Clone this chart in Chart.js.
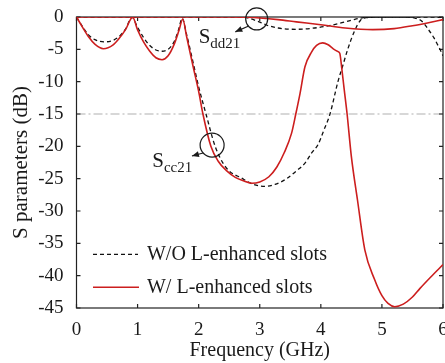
<!DOCTYPE html>
<html>
<head>
<meta charset="utf-8">
<script src="https://cdn.jsdelivr.net/npm/chart.js@4"></script>
<style>
  html, body { margin:0; padding:0; background:#fff; overflow:hidden; }
</style>
</head>
<body>
<canvas id="myChart" width="445" height="363"></canvas>
<script>
// S parameters (GHz, dB)
const freqSccW = [0, 0.1, 0.2, 0.3, 0.44, 0.6, 0.7, 0.8, 0.92, 1.0, 1.1, 1.2, 1.3, 1.4, 1.5, 1.6, 1.68, 1.74, 1.8, 1.91, 2.0, 2.07, 2.2, 2.32, 2.46, 2.6, 2.72, 2.87, 3.0, 3.15, 3.28, 3.4, 3.52, 3.59, 3.66, 3.74, 3.85, 3.93, 4.03, 4.12, 4.2, 4.27, 4.31, 4.34, 4.38, 4.43, 4.5, 4.6, 4.72, 4.88, 5.0, 5.1, 5.21, 5.35, 5.5, 5.62, 5.8, 6.0];
const sccW = [0, -1.6, -3.1, -4.2, -4.9, -4.3, -3.3, -2.0, -0.05, -2.0, -3.9, -5.3, -6.3, -6.6, -6.0, -4.2, -2.0, -0.3, -2.9, -7.7, -11.5, -15, -20, -22.3, -23.8, -24.8, -25.3, -25.7, -25.5, -24.7, -23.2, -21.0, -18.0, -15.0, -11.8, -7.7, -5.4, -4.4, -4.0, -4.3, -4.9, -5.3, -5.6, -7.7, -11, -15, -21.6, -28.3, -36, -40.6, -43.1, -44.3, -44.8, -44.4, -43.3, -42.0, -40.2, -38.3];

const freqSddW = [0, 1.0, 2.0, 2.5, 2.8, 3.0, 3.3, 3.6, 4.0, 4.4, 4.85, 5.2, 5.5, 5.8, 6.0];
const sddW = [0, 0, 0, 0, -0.05, -0.15, -0.4, -0.75, -1.2, -1.7, -1.95, -1.8, -1.35, -0.8, -0.4];

const freqSccWO = [0, 0.1, 0.2, 0.3, 0.45, 0.6, 0.7, 0.8, 0.91, 1.0, 1.1, 1.2, 1.3, 1.4, 1.5, 1.6, 1.67, 1.73, 1.8, 1.92, 2.0, 2.12, 2.27, 2.45, 2.72, 2.9, 3.08, 3.25, 3.44, 3.6, 3.74, 3.85, 3.95, 4.05, 4.15, 4.28, 4.36, 4.44, 4.55, 4.65, 4.75, 5.0, 5.3, 5.55, 5.65, 5.75, 5.85, 5.95, 6.0];
const sccWO = [0, -1.5, -2.8, -3.5, -3.85, -3.6, -3.0, -1.9, -0.05, -1.6, -3.2, -4.4, -5.1, -5.3, -5.0, -3.8, -2.0, -0.2, -2.6, -7.5, -10.8, -15, -20, -23.3, -25.0, -25.9, -26.2, -25.9, -25.0, -23.8, -22.6, -21.0, -19.8, -17.5, -15.0, -10.0, -7.5, -5.0, -2.2, -0.5, -0.1, 0, 0, -0.2, -0.6, -1.8, -3.2, -5.0, -6.0];

const freqSddWO = [0, 1.0, 2.0, 2.6, 2.8, 2.95, 3.1, 3.3, 3.6, 3.9, 4.1, 4.3, 4.5, 4.7, 5.0, 5.5, 6.0];
const sddWO = [0, 0, 0, 0, -0.15, -0.6, -1.2, -1.7, -1.9, -1.7, -1.4, -1.0, -0.5, -0.1, 0, 0, -0.05];

const xTicks = [0, 1, 2, 3, 4, 5, 6];
const yTicks = [0, -5, -10, -15, -20, -25, -30, -35, -40, -45];
const refLevel = -15;
const legendLabels = ["W/O L-enhanced slots", "W/ L-enhanced slots"];

const serif = "'Liberation Serif', 'Times New Roman', serif";
const red = "#cc1e1e";
const ink = "#1a1a1a";

function toPoints(xs, ys){
  return xs.map((x, i) => ({x: x, y: ys[i]}));
}

function arrow(ctx, x1, y1, x2, y2){
  let ang = Math.atan2(y2 - y1, x2 - x1);
  ctx.beginPath();
  ctx.moveTo(x1, y1);
  ctx.lineTo(x2, y2);
  ctx.stroke();
  ctx.beginPath();
  ctx.moveTo(x2, y2);
  ctx.lineTo(x2 - 7*Math.cos(ang) + 3*Math.sin(ang), y2 - 7*Math.sin(ang) - 3*Math.cos(ang));
  ctx.lineTo(x2 - 7*Math.cos(ang) - 3*Math.sin(ang), y2 - 7*Math.sin(ang) + 3*Math.cos(ang));
  ctx.closePath();
  ctx.fill();
}

function subLabel(ctx, x, y, main, sub){
  ctx.font = "21px " + serif;
  ctx.fillText(main, x, y);
  let w = ctx.measureText(main).width;
  ctx.font = "15px " + serif;
  ctx.fillText(sub, x + w, y + 5);
}

const framePlugin = {
  id: "frame",
  beforeDatasetsDraw(chart){
    const {ctx, chartArea: a, scales: {x, y}} = chart;
    ctx.save();
    // -15 dB reference
    ctx.strokeStyle = "#b0b0b0";
    ctx.lineWidth = 1.2;
    ctx.setLineDash([9, 3, 2, 3]);
    let yy = y.getPixelForValue(refLevel);
    ctx.beginPath();
    ctx.moveTo(a.left, yy);
    ctx.lineTo(a.right, yy);
    ctx.stroke();
    ctx.setLineDash([]);
    // box with inward ticks
    ctx.strokeStyle = "#222";
    ctx.lineWidth = 1.2;
    ctx.strokeRect(a.left, a.top, a.right - a.left, a.bottom - a.top);
    ctx.beginPath();
    xTicks.forEach(v => {
      let px = x.getPixelForValue(v);
      ctx.moveTo(px, a.bottom); ctx.lineTo(px, a.bottom - 4);
      ctx.moveTo(px, a.top); ctx.lineTo(px, a.top + 4);
    });
    yTicks.forEach(v => {
      let py = y.getPixelForValue(v);
      ctx.moveTo(a.left, py); ctx.lineTo(a.left + 4, py);
      ctx.moveTo(a.right, py); ctx.lineTo(a.right - 4, py);
    });
    ctx.stroke();
    ctx.restore();
  }
};

const notePlugin = {
  id: "notes",
  afterDatasetsDraw(chart){
    const {ctx, scales: {x, y}} = chart;
    ctx.save();
    ctx.strokeStyle = ink;
    ctx.fillStyle = ink;
    ctx.lineWidth = 1.2;

    // Sdd21 marker
    let cx = x.getPixelForValue(2.95), cy = y.getPixelForValue(-0.3);
    ctx.beginPath(); ctx.arc(cx, cy, 11, 0, Math.PI*2); ctx.stroke();
    arrow(ctx, cx - 8, cy + 7, x.getPixelForValue(2.6), y.getPixelForValue(-2.3));
    ctx.textBaseline = "alphabetic";
    subLabel(ctx, x.getPixelForValue(2.0), y.getPixelForValue(-4.0), "S", "dd21");

    // Scc21 marker
    cx = x.getPixelForValue(2.22); cy = y.getPixelForValue(-19.8);
    ctx.beginPath(); ctx.arc(cx, cy, 12, 0, Math.PI*2); ctx.stroke();
    arrow(ctx, cx - 9, cy + 8, x.getPixelForValue(1.89), y.getPixelForValue(-21.5));
    subLabel(ctx, x.getPixelForValue(1.24), y.getPixelForValue(-23.2), "S", "cc21");

    // legend
    let lx = x.getPixelForValue(0.27);
    let ly1 = y.getPixelForValue(-36.7), ly2 = y.getPixelForValue(-41.8);
    ctx.lineWidth = 1.3;
    ctx.setLineDash([4, 3]);
    ctx.strokeStyle = "#111";
    ctx.beginPath(); ctx.moveTo(lx, ly1); ctx.lineTo(lx + 45, ly1); ctx.stroke();
    ctx.setLineDash([]);
    ctx.strokeStyle = red;
    ctx.lineWidth = 1.6;
    ctx.beginPath(); ctx.moveTo(lx, ly2); ctx.lineTo(lx + 46, ly2); ctx.stroke();
    ctx.font = "20px " + serif;
    ctx.fillStyle = ink;
    ctx.textBaseline = "middle";
    ctx.fillText(legendLabels[0], lx + 54, ly1);
    ctx.fillText(legendLabels[1], lx + 54, ly2);
    ctx.restore();
  }
};

const ctx = document.getElementById("myChart").getContext("2d");
new Chart(ctx, {
  type: "line",
  data: {
    datasets: [
      {label: "W/ Scc21", data: toPoints(freqSccW, sccW), borderColor: red, borderWidth: 1.6, pointRadius: 0, cubicInterpolationMode: "monotone"},
      {label: "W/ Sdd21", data: toPoints(freqSddW, sddW), borderColor: red, borderWidth: 1.6, pointRadius: 0, cubicInterpolationMode: "monotone"},
      {label: "W/O Scc21", data: toPoints(freqSccWO, sccWO), borderColor: "#111", borderDash: [4, 3], borderWidth: 1.3, pointRadius: 0, cubicInterpolationMode: "monotone"},
      {label: "W/O Sdd21", data: toPoints(freqSddWO, sddWO), borderColor: "#111", borderDash: [4, 3], borderWidth: 1.3, pointRadius: 0, cubicInterpolationMode: "monotone"}
    ]
  },
  options: {
    responsive: false,
    animation: false,
    layout: {padding: {top: 17, right: 2, left: 0, bottom: 0}},
    plugins: {legend: {display: false}, tooltip: {enabled: false}},
    scales: {
      x: {
        type: "linear", min: 0, max: 6,
        afterBuildTicks: s => { s.ticks = xTicks.map(v => ({value: v})); },
        grid: {display: false},
        border: {display: false},
        ticks: {font: {family: serif, size: 19}, color: ink, padding: 3, maxRotation: 0},
        title: {display: true, text: "Frequency (GHz)", font: {family: serif, size: 20}, color: ink, padding: 0},
        afterFit(s){ s.height = 55; s.paddingLeft = 0; s.paddingRight = 0; }
      },
      y: {
        type: "linear", min: -45, max: 0,
        afterBuildTicks: s => { s.ticks = yTicks.map(v => ({value: v})); },
        grid: {display: false},
        border: {display: false},
        ticks: {font: {family: serif, size: 19}, color: ink, padding: 5},
        title: {display: true, text: "S parameters (dB)", font: {family: serif, size: 21}, color: ink, padding: {top: 9, bottom: 0}},
        afterFit(s){ s.width = 76.5; s.paddingTop = 0; s.paddingBottom = 0; }
      }
    }
  },
  plugins: [framePlugin, notePlugin]
});
</script>
</body>
</html>
